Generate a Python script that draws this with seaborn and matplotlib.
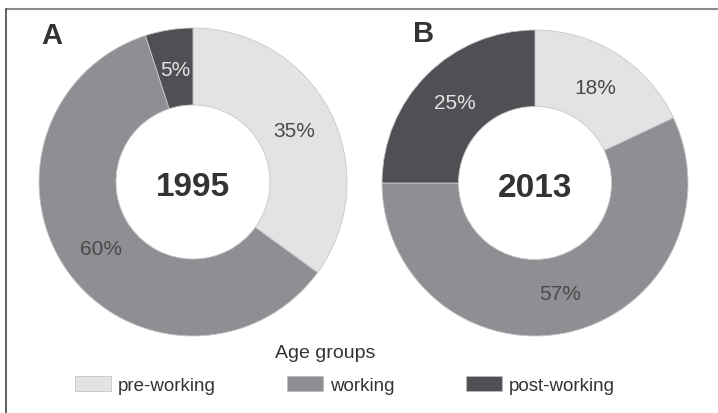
import matplotlib
matplotlib.use("Agg")
import matplotlib.pyplot as plt
from matplotlib.patches import Patch
from matplotlib.lines import Line2D
import seaborn as sns

# ---- data ----
groups = ["pre-working", "working", "post-working"]
share_1995 = [35, 60, 5]
share_2013 = [18, 57, 25]
years = ["1995", "2013"]
panel_letters = ["A", "B"]
legend_title = "Age groups"

sns.set_style("white")
plt.rcParams["font.family"] = ["Liberation Sans", "DejaVu Sans"]

colors = sns.color_palette(["#e3e3e5", "#8e8f93", "#4f5054"])
label_colors = ["#4a4a4a", "#4a4a4a", "#e4e4e4"]

W, H = 718, 414
fig = plt.figure(figsize=(W / 100, H / 100), dpi=100)
fig.patch.set_facecolor("white")

def add_donut(cx, cy, r, values, year, letter, lx, ly):
    ax = fig.add_axes([(cx - r) / W, (H - cy - r) / H, 2 * r / W, 2 * r / H])
    wedges, texts, autotexts = ax.pie(
        values, colors=colors, startangle=90, counterclock=False,
        autopct=lambda p: f"{p:.0f}%", pctdistance=0.74,
        wedgeprops=dict(width=0.5, edgecolor="#c9c9cb", linewidth=0.6),
        textprops=dict(fontsize=15),
    )
    for t, c in zip(autotexts, label_colors):
        t.set_color(c)
    ax.set_xlim(-1, 1)
    ax.set_ylim(-1, 1)
    ax.set_aspect("equal")
    ax.axis("off")
    ax.text(0, -0.03, year, ha="center", va="center", fontsize=24,
            fontweight="bold", color="#333333")
    fig.text(lx / W, 1 - ly / H, letter, ha="center", va="center",
             fontsize=21, fontweight="bold", color="#333333")

add_donut(193, 183, 154, share_1995, years[0], panel_letters[0], 52, 36)
add_donut(535, 184, 153, share_2013, years[1], panel_letters[1], 424, 34)

# frame lines
fig.add_artist(Line2D([6 / W, 1], [1 - 10 / H, 1 - 10 / H], color="#8a8a8a", lw=1.5))
fig.add_artist(Line2D([6 / W, 6 / W], [1 - 10 / H, 0], color="#444444", lw=1.2))

# legend
fig.text(325 / W, 1 - 354 / H, legend_title, ha="center", va="center",
         fontsize=14, color="#333333")
handles = [Patch(facecolor=c, edgecolor="#bdbdbd", linewidth=0.5) for c in colors]
leg = fig.legend(handles, groups, loc="center left",
                 bbox_to_anchor=(75 / W, 1 - 386 / H), ncol=3, frameon=False,
                 fontsize=13.5, handlelength=1.92, handleheight=0.9,
                 handletextpad=0.37, columnspacing=3.8, borderpad=0,
                 borderaxespad=0)
for t in leg.get_texts():
    t.set_color("#333333")

fig.savefig("out.png", dpi=100)
